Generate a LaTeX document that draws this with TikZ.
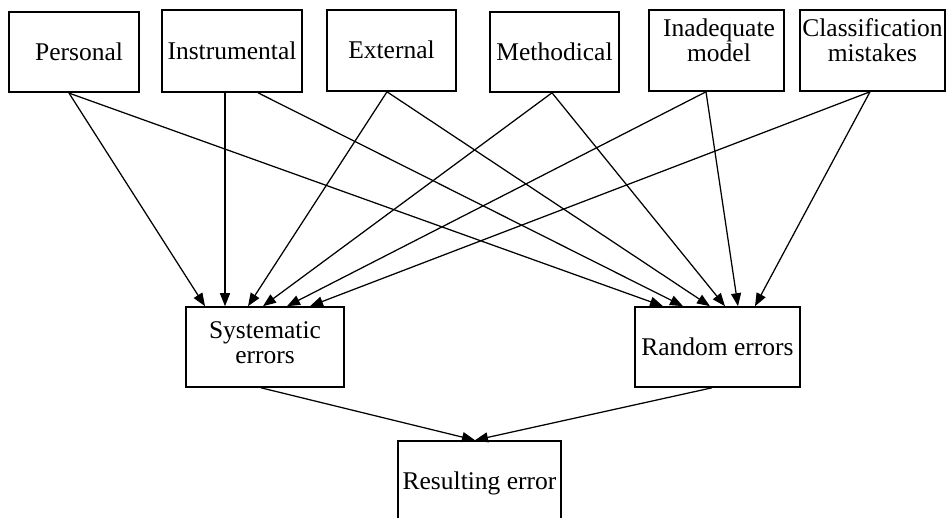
\documentclass[tikz,border=0pt]{standalone}
\usepackage{fontspec}
\setmainfont{Liberation Serif}
\usetikzlibrary{arrows.meta}
\begin{document}
\begin{tikzpicture}[x=1pt,y=-1pt,
  box/.style={draw, line width=1.6pt, rectangle, inner sep=0pt, align=center,
              font=\fontsize{25.5}{25}\selectfont},
  oneline/.style={text height=17pt, text depth=0pt},
  twocentre/.style={text height=34pt, text depth=0pt},
  twotop/.style={text height=23pt, text depth=0pt},
  link/.style={line width=1.25pt, -{Triangle[length=13pt,width=10pt]}}
]
\useasboundingbox (0,0) rectangle (946,518);

% sources of error
\node[box,oneline,minimum width=130pt,minimum height=80pt] (pers)  at (74,52.3)  {\hspace*{10pt}Personal};
\node[box,oneline,minimum width=140pt,minimum height=82pt] (instr) at (232,51)   {Instrumental};
\node[box,oneline,minimum width=129pt,minimum height=81pt] (ext)   at (391.5,50.5) {External};
\node[box,oneline,minimum width=129pt,minimum height=80pt] (meth)  at (554.5,52) {Methodical};
\node[box,twotop,minimum width=135pt,minimum height=81pt]  (inad)  at (716.5,50.5) {\hspace*{5pt}Inadequate\\\hspace*{5pt}model};
\node[box,twotop,minimum width=145pt,minimum height=81pt]  (clas)  at (872.5,50.5) {Classification\\mistakes};

% kinds of error
\node[box,twocentre,minimum width=158pt,minimum height=80pt] (sys)  at (265,347)   {Systematic\\errors};
\node[box,oneline,minimum width=165pt,minimum height=80pt]   (rand) at (717.5,347) {Random errors};

% total
\node[box,oneline,minimum width=163pt,minimum height=80pt]   (res)  at (479.5,481) {Resulting error};

% sources -> systematic errors
\draw[link] ([xshift=-5pt]pers.south)   -- ([xshift=-60pt]sys.north);
\draw[link] ([xshift=-7pt]instr.south)  -- ([xshift=-40pt]sys.north);
\draw[link] ([xshift=-4.5pt]ext.south)  -- ([xshift=-17pt]sys.north);
\draw[link] ([xshift=-2.5pt]meth.south) -- ([xshift=-2pt]sys.north);
\draw[link] ([xshift=-10.5pt]inad.south) -- ([xshift=22pt]sys.north);
\draw[link] ([xshift=-2.5pt]clas.south) -- ([xshift=45pt]sys.north);

% sources -> random errors
\draw[link] ([xshift=-5pt]pers.south)   -- ([xshift=-54.5pt]rand.north);
\draw[link] ([xshift=26pt]instr.south)  -- ([xshift=-34.5pt]rand.north);
\draw[link] ([xshift=-4.5pt]ext.south)  -- ([xshift=-7.5pt]rand.north);
\draw[link] ([xshift=-2.5pt]meth.south) -- ([xshift=7.5pt]rand.north);
\draw[link] ([xshift=-10.5pt]inad.south) -- ([xshift=20.5pt]rand.north);
\draw[link] ([xshift=-2.5pt]clas.south) -- ([xshift=37.5pt]rand.north);

% both kinds -> resulting error
\draw[link] ([xshift=-4pt]sys.south)  -- ([xshift=-4.5pt]res.north);
\draw[link] ([xshift=-5.5pt]rand.south) -- ([xshift=-4.5pt]res.north);
\end{tikzpicture}
\end{document}
